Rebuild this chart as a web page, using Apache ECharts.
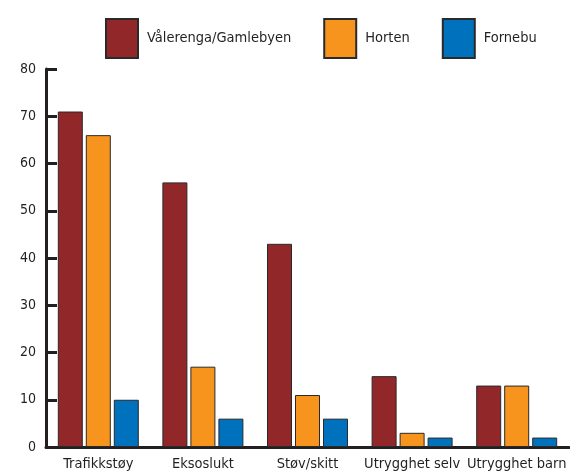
<!DOCTYPE html>
<html>
<head>
<meta charset="utf-8">
<script src="https://cdn.jsdelivr.net/npm/echarts@6/dist/echarts.min.js"></script>
<style>html,body{margin:0;padding:0;background:#fff;overflow:hidden}#c{width:570px;height:475px}</style>
</head>
<body>
<div id="c"></div>
<script>
const categories = ['Trafikkstøy', 'Eksoslukt', 'Støv/skitt', 'Utrygghet selv', 'Utrygghet barn'];
const seriesNames = ['Vålerenga/Gamlebyen', 'Horten', 'Fornebu'];
const valerenga = [71, 56, 43, 15, 13];
const horten = [66, 17, 11, 3, 13];
const fornebu = [10, 6, 6, 2, 2];
const colors = ['#92272A', '#F7941E', '#0071BC'];

const FONT = '"DejaVu Sans Condensed", "Liberation Sans Narrow", sans-serif';
const dataSets = [valerenga, horten, fornebu];

const chart = echarts.init(document.getElementById('c'), null, {renderer: 'canvas'});
chart.setOption({
  animation: false,
  color: colors,
  legend: {
    left: 100, top: 13, width: 470,
    icon: 'rect',
    itemWidth: 32, itemHeight: 39, itemGap: 32,
    textStyle: {fontFamily: FONT, fontSize: 14.5, color: '#231f20', padding: [10, 0, 0, 4]},
    data: seriesNames
  },
  grid: {left: 46, right: 1, top: 69, bottom: 28, containLabel: false, outerBoundsMode: 'none'},
  xAxis: {
    type: 'category',
    data: categories,
    boundaryGap: true,
    axisLine: {lineStyle: {color: '#231f20', width: 3}},
    axisTick: {inside: true, length: 8, lineStyle: {color: '#231f20', width: 3}},
    axisLabel: {fontFamily: FONT, fontSize: 14.5, color: '#231f20', margin: 10, interval: 0}
  },
  yAxis: {
    type: 'value', min: 0, max: 80, interval: 10,
    axisLine: {show: true, lineStyle: {color: '#231f20', width: 3}},
    axisTick: {show: true, inside: true, length: 11, lineStyle: {color: '#231f20', width: 3}},
    axisLabel: {fontFamily: FONT, fontSize: 14, color: '#231f20', margin: 10},
    splitLine: {show: false}
  },
  series: seriesNames.map((n, i) => ({
    name: n,
    type: 'bar',
    data: dataSets[i],
    barWidth: 25,
    barGap: '12%',
    itemStyle: {color: colors[i], borderColor: '#2a2a2a', borderWidth: 1}
  }))
});
</script>
</body>
</html>
